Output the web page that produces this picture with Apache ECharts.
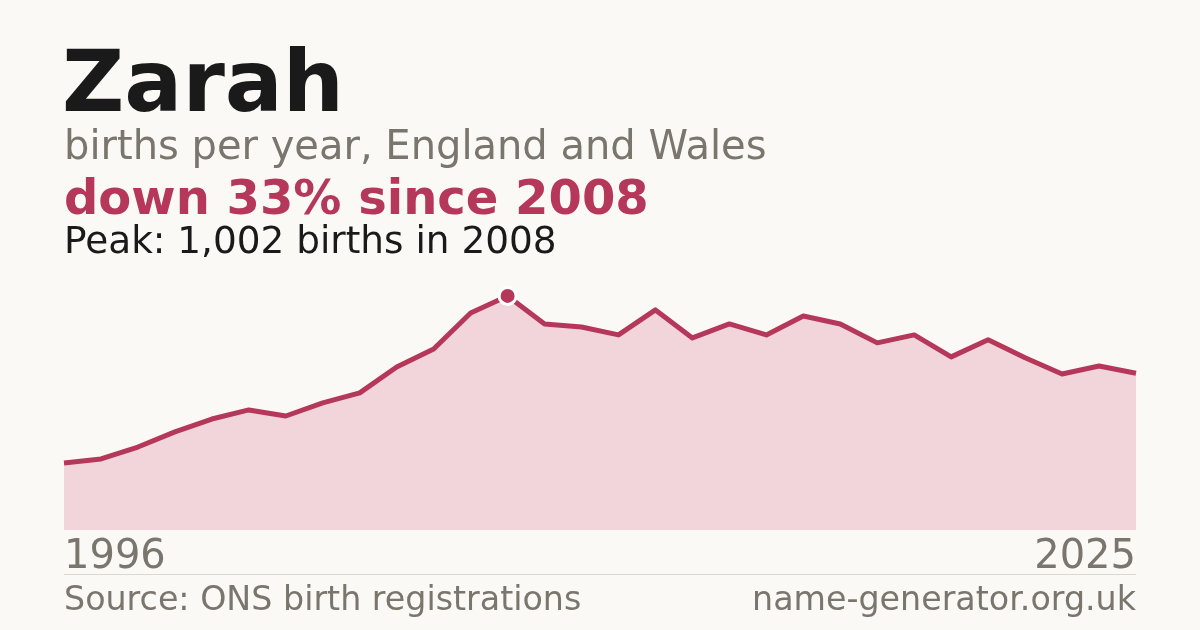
<!DOCTYPE html>
<html>
<head>
<meta charset="utf-8">
<script src="https://cdn.jsdelivr.net/npm/echarts@6/dist/echarts.min.js"></script>
<style>
html,body{margin:0;padding:0;background:#faf9f5;}
#c{width:1200px;height:630px;}
</style>
</head>
<body>
<div id="c"></div>
<script>
const years = ['1996','1997','1998','1999','2000','2001','2002','2003','2004','2005','2006','2007','2008','2009','2010','2011','2012','2013','2014','2015','2016','2017','2018','2019','2020','2021','2022','2023','2024','2025'];
const births = [287,304,355,420,475,514,488,544,587,698,775,929,1002,882,869,835,942,822,882,835,916,882,801,835,741,814,737,668,702,671];
const titleText = 'Zarah';
const subtitleText = 'births per year, England and Wales';
const changeText = 'down 33% since 2008';
const peakText = 'Peak: 1,002 births in 2008';
const sourceText = 'Source: ONS birth registrations';
const siteText = 'name-generator.org.uk';

let peakIdx = 0;
births.forEach((v,i)=>{ if (v > births[peakIdx]) peakIdx = i; });

const FONT = '"DejaVu Sans", sans-serif';
const RED = '#b5385a';
const GREY = '#7a756d';
const last = years.length - 1;

const chart = echarts.init(document.getElementById('c'), null, {renderer:'canvas'});
chart.setOption({
  backgroundColor: '#faf9f5',
  animation: false,
  grid: {left: 64, right: 64, top: 273, bottom: 100, containLabel: false},
  xAxis: {
    type: 'category', data: years, boundaryGap: false,
    axisLine: {show: false}, axisTick: {show: false}, splitLine: {show: false},
    axisLabel: {
      show: true, fontFamily: FONT, fontSize: 40, color: GREY, margin: 8,
      interval: (i) => i === 0 || i === last,
      alignMinLabel: 'left', alignMaxLabel: 'right'
    }
  },
  yAxis: {type: 'value', min: 0, max: 1100, show: false, splitLine: {show: false}},
  series: [
    {
      type: 'line', data: births, symbol: 'none', smooth: false,
      lineStyle: {color: RED, width: 5, join: 'round'},
      areaStyle: {color: '#f1d5db', opacity: 1},
      z: 2
    },
    {
      type: 'scatter', data: [[peakIdx, births[peakIdx]]],
      symbol: 'circle', symbolSize: 17,
      itemStyle: {color: RED, borderColor: '#ffffff', borderWidth: 3, opacity: 1},
      z: 5
    }
  ],
  graphic: [
    {type: 'text', x: 62, y: 89, style: {text: titleText, font: 'bold 86px ' + FONT, fill: '#1a1a1a', textVerticalAlign: 'middle'}},
    {type: 'text', x: 64, y: 149, style: {text: subtitleText, font: '40px ' + FONT, fill: GREY, textVerticalAlign: 'middle'}},
    {type: 'text', x: 64, y: 202, style: {text: changeText, font: 'bold 48px ' + FONT, fill: RED, textVerticalAlign: 'middle'}},
    {type: 'text', x: 64, y: 243, style: {text: peakText, font: '37.4px ' + FONT, fill: '#1a1a1a', textVerticalAlign: 'middle'}},
    {type: 'line', shape: {x1: 64, y1: 574.5, x2: 1136, y2: 574.5}, style: {stroke: '#dcd8d0', lineWidth: 1}},
    {type: 'text', x: 64, y: 601, style: {text: sourceText, font: '33.3px ' + FONT, fill: GREY, textVerticalAlign: 'middle'}},
    {type: 'text', x: 1136, y: 601, style: {text: siteText, font: '33.3px ' + FONT, fill: GREY, textAlign: 'right', textVerticalAlign: 'middle'}}
  ]
});
</script>
</body>
</html>
